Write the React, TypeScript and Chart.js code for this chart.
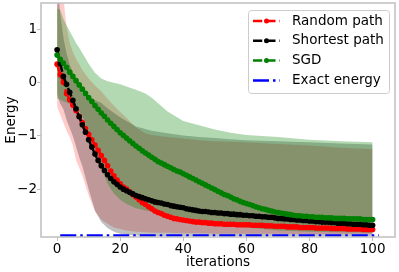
import React, { useEffect, useRef } from 'react';
import { Chart, registerables } from 'chart.js';

Chart.register(...registerables);

// ---------- data ----------
const iterations: number[] = Array.from({ length: 101 }, (_, i) => i);

const randomPath = [
  0.35, 0.15, 0.01, -0.2, -0.32, -0.42, -0.52, -0.63, -0.75, -0.86,
  -0.97, -1.07, -1.17, -1.27, -1.37, -1.46, -1.56, -1.66, -1.75, -1.83,
  -1.9, -1.96, -2.0, -2.05, -2.1, -2.15, -2.2, -2.25, -2.29, -2.33,
  -2.37, -2.41, -2.44, -2.46, -2.49, -2.51, -2.53, -2.55, -2.56, -2.57,
  -2.58, -2.59, -2.6, -2.61, -2.62, -2.62, -2.63, -2.63, -2.64, -2.64,
  -2.65, -2.65, -2.65, -2.66, -2.66, -2.66, -2.66, -2.67, -2.67, -2.67,
  -2.67, -2.67, -2.68, -2.68, -2.68, -2.68, -2.69, -2.69, -2.69, -2.7,
  -2.7, -2.7, -2.7, -2.71, -2.71, -2.71, -2.71, -2.72, -2.72, -2.72,
  -2.72, -2.72, -2.73, -2.73, -2.73, -2.73, -2.73, -2.74, -2.74, -2.74,
  -2.74, -2.74, -2.75, -2.75, -2.75, -2.75, -2.75, -2.76, -2.76, -2.76,
  -2.76,
];

const shortestPath = [
  0.62, 0.36, 0.12, -0.03, -0.18, -0.33, -0.49, -0.64, -0.79, -0.93,
  -1.07, -1.21, -1.34, -1.46, -1.56, -1.65, -1.73, -1.8, -1.86, -1.91,
  -1.96, -2.0, -2.03, -2.06, -2.09, -2.12, -2.14, -2.16, -2.18, -2.2,
  -2.22, -2.24, -2.25, -2.26, -2.28, -2.29, -2.31, -2.32, -2.33, -2.34,
  -2.35, -2.37, -2.38, -2.39, -2.4, -2.41, -2.42, -2.42, -2.43, -2.44,
  -2.44, -2.45, -2.45, -2.46, -2.46, -2.47, -2.47, -2.48, -2.48, -2.49,
  -2.49, -2.5, -2.5, -2.51, -2.51, -2.52, -2.52, -2.53, -2.53, -2.54,
  -2.55, -2.55, -2.56, -2.56, -2.57, -2.57, -2.58, -2.58, -2.59, -2.59,
  -2.6, -2.6, -2.61, -2.61, -2.62, -2.62, -2.62, -2.63, -2.63, -2.64,
  -2.64, -2.64, -2.65, -2.65, -2.66, -2.66, -2.66, -2.67, -2.67, -2.68,
  -2.68,
];

const sgd = [
  0.52, 0.44, 0.37, 0.29, 0.2, 0.12, 0.04, -0.04, -0.12, -0.2,
  -0.28, -0.35, -0.43, -0.5, -0.57, -0.63, -0.7, -0.76, -0.82, -0.88,
  -0.94, -0.99, -1.04, -1.09, -1.14, -1.19, -1.23, -1.28, -1.32, -1.36,
  -1.4, -1.44, -1.48, -1.51, -1.54, -1.57, -1.6, -1.63, -1.66, -1.68,
  -1.71, -1.74, -1.77, -1.8, -1.83, -1.86, -1.89, -1.92, -1.95, -1.98,
  -2.01, -2.04, -2.07, -2.1, -2.12, -2.15, -2.18, -2.2, -2.23, -2.25,
  -2.27, -2.29, -2.31, -2.33, -2.35, -2.37, -2.38, -2.4, -2.41, -2.43,
  -2.44, -2.45, -2.46, -2.47, -2.48, -2.49, -2.5, -2.5, -2.51, -2.51,
  -2.52, -2.52, -2.53, -2.53, -2.53, -2.54, -2.54, -2.54, -2.55, -2.55,
  -2.55, -2.55, -2.56, -2.56, -2.56, -2.56, -2.56, -2.57, -2.57, -2.57,
  -2.57,
];

// spread bands (mean +/- std), sampled at these iterations
const bandX = [0, 1, 2, 3, 4, 5, 6, 7, 8, 10, 12, 14, 16, 18, 20, 22, 25, 28, 30, 35, 40, 45, 50, 55, 60, 70, 80, 90, 100];
const randomUpper = [3.0, 2.4, 1.6, 1.05, 0.75, 0.58, 0.45, 0.35, 0.24, 0.08, -0.05, -0.16, -0.3, -0.43, -0.55, -0.66, -0.84, -0.95, -0.98, -1.02, -1.05, -1.08, -1.1, -1.11, -1.12, -1.15, -1.18, -1.22, -1.25];
const randomLower = [-0.45, -0.6, -0.75, -0.9, -1.02, -1.18, -1.45, -1.6, -1.75, -2.12, -2.42, -2.57, -2.65, -2.72, -2.75, -2.78, -2.8, -2.81, -2.82, -2.82, -2.83, -2.83, -2.84, -2.84, -2.84, -2.84, -2.85, -2.85, -2.85];
const shortestUpper = [2.0, 1.3, 0.85, 0.55, 0.35, 0.2, 0.07, -0.05, -0.2, -0.3, -0.33, -0.38, -0.48, -0.57, -0.65, -0.72, -0.82, -0.87, -0.9, -0.95, -0.99, -1.02, -1.04, -1.06, -1.08, -1.1, -1.12, -1.14, -1.16];
const shortestLower = [-0.2, -0.4, -0.5, -0.7, -0.85, -1.0, -1.2, -1.4, -1.57, -2.0, -2.4, -2.62, -2.73, -2.8, -2.84, -2.86, -2.87, -2.88, -2.88, -2.88, -2.88, -2.88, -2.88, -2.88, -2.88, -2.88, -2.88, -2.88, -2.88];
const sgdUpper = [1.4, 1.37, 1.2, 1.08, 0.97, 0.86, 0.75, 0.66, 0.56, 0.36, 0.19, 0.08, 0.03, 0.0, -0.03, -0.07, -0.13, -0.2, -0.28, -0.54, -0.72, -0.8, -0.88, -0.94, -0.98, -1.02, -1.07, -1.1, -1.12];
const sgdLower = [-0.3, -0.32, -0.35, -0.37, -0.4, -0.43, -0.47, -0.54, -0.62, -0.9, -1.25, -1.6, -1.9, -2.08, -2.2, -2.28, -2.36, -2.4, -2.42, -2.47, -2.53, -2.58, -2.63, -2.68, -2.72, -2.78, -2.8, -2.81, -2.82];

const exactX = [1, 102];
const exactEnergy = [-2.87, -2.87];

const xTicks = [0, 20, 40, 60, 80, 100];
const yTicks = [-2, -1, 0, 1];

const seriesNames = ['Random path', 'Shortest path', 'SGD', 'Exact energy'];
const seriesColors = ['#ff0000', '#000000', '#008000', '#0000ff'];

// ---------- styles ----------
const FONT = 'DejaVu Sans';
const FS = 13.5;
const SPINE = '#bfbfbf';
const MAIN_DASH = [9.25, 4];
const EXACT_DASH = [16, 4, 2.5, 4];

const toXY = (xs: number[], ys: number[]) => ys.map((y, i) => ({ x: xs[i], y }));

const lineDs = (label: string, data: number[], color: string, order: number) => ({
  label,
  data: toXY(iterations, data),
  borderColor: color,
  backgroundColor: color,
  borderWidth: 2.5,
  borderDash: MAIN_DASH,
  pointRadius: 2.8,
  pointBorderWidth: 0,
  pointBackgroundColor: color,
  pointHoverRadius: 0,
  fill: false,
  tension: 0,
  order,
});

const bandDs = (upper: number[], lower: number[], fillColor: string, order: number) => [
  {
    data: toXY(bandX, upper),
    fill: '+1',
    backgroundColor: fillColor,
    borderColor: 'rgba(0,0,0,0)',
    borderWidth: 0,
    pointRadius: 0,
    tension: 0,
    order,
  },
  {
    data: toXY(bandX, lower),
    fill: false,
    borderColor: 'rgba(0,0,0,0)',
    borderWidth: 0,
    pointRadius: 0,
    tension: 0,
    order,
  },
];

const fmt = (v: number) => (v < 0 ? '\u2212' + String(Math.abs(v)) : String(v));

const framePlugin = {
  id: 'frameAndLegend',
  afterDraw(chart: any) {
    const { ctx, chartArea: a } = chart;
    ctx.save();
    // spines
    ctx.strokeStyle = SPINE;
    ctx.lineWidth = 1.5;
    ctx.strokeRect(a.left, a.top, a.right - a.left, a.bottom - a.top);

    // legend
    const bw = 141;
    const bh = 83;
    const bx = a.right - 6 - bw;
    const by = a.top + 7;
    ctx.beginPath();
    (ctx as any).roundRect(bx + 0.5, by + 0.5, bw, bh, 3);
    ctx.fillStyle = 'rgba(255,255,255,0.8)';
    ctx.fill();
    ctx.strokeStyle = '#cccccc';
    ctx.lineWidth = 1;
    ctx.stroke();

    ctx.font = `${FS}px "${FONT}"`;
    ctx.textBaseline = 'middle';
    ctx.textAlign = 'left';
    seriesNames.forEach((name, i) => {
      const cy = by + 11 + i * 19.8;
      const x0 = bx + 5;
      const x1 = bx + 32;
      ctx.beginPath();
      ctx.setLineDash(i === 3 ? EXACT_DASH : MAIN_DASH);
      ctx.lineWidth = 2.5;
      ctx.strokeStyle = seriesColors[i];
      ctx.moveTo(x0, cy);
      ctx.lineTo(x1, cy);
      ctx.stroke();
      ctx.setLineDash([]);
      if (i < 3) {
        ctx.beginPath();
        ctx.fillStyle = seriesColors[i];
        ctx.arc((x0 + x1) / 2, cy, 2.5, 0, Math.PI * 2);
        ctx.fill();
      }
      ctx.fillStyle = '#000000';
      ctx.fillText(name, bx + 44, cy);
    });
    ctx.restore();
  },
};

export default function App() {
  const ref = useRef<HTMLCanvasElement | null>(null);

  useEffect(() => {
    if (!ref.current) return;
    const datasets: any[] = [
      {
        label: seriesNames[3],
        data: toXY(exactX, exactEnergy),
        borderColor: seriesColors[3],
        borderWidth: 2.5,
        borderDash: EXACT_DASH,
        pointRadius: 0,
        fill: false,
        order: 1,
      },
      lineDs(seriesNames[2], sgd, seriesColors[2], 2),
      lineDs(seriesNames[1], shortestPath, seriesColors[1], 3),
      lineDs(seriesNames[0], randomPath, seriesColors[0], 4),
      ...bandDs(sgdUpper, sgdLower, 'rgba(0,128,0,0.3)', 5),
      ...bandDs(shortestUpper, shortestLower, 'rgba(0,0,0,0.25)', 6),
      ...bandDs(randomUpper, randomLower, 'rgba(255,0,0,0.2)', 7),
    ];

    const chart = new Chart(ref.current, {
      type: 'line',
      data: { datasets },
      plugins: [framePlugin],
      options: {
        animation: false,
        responsive: false,
        devicePixelRatio: 1,
        events: [],
        layout: { padding: { top: 3, right: 4, left: 0, bottom: 0 } },
        plugins: {
          legend: { display: false },
          tooltip: { enabled: false },
          filler: { propagate: false, drawTime: 'beforeDatasetsDraw' },
        },
        scales: {
          x: {
            type: 'linear',
            min: -5.1,
            max: 107.1,
            afterBuildTicks: (s: any) => {
              s.ticks = xTicks.map((v) => ({ value: v }));
            },
            afterFit: (s: any) => {
              s.height = 35;
              s.paddingLeft = 0;
              s.paddingRight = 0;
            },
            border: { display: false },
            grid: { display: true, drawOnChartArea: false, drawTicks: true, tickLength: 4, color: SPINE, lineWidth: 1 },
            ticks: {
              padding: 0,
              maxRotation: 0,
              color: '#000',
              font: { family: FONT, size: FS },
              callback: (v: any) => fmt(Number(v)),
            },
            title: {
              display: true,
              text: 'iterations',
              color: '#000',
              font: { family: FONT, size: FS },
              padding: { top: 0, bottom: 1 },
            },
          },
          y: {
            type: 'linear',
            min: -2.9,
            max: 1.5,
            afterBuildTicks: (s: any) => {
              s.ticks = yTicks.map((v) => ({ value: v }));
            },
            afterFit: (s: any) => {
              s.width = 41;
              s.paddingTop = 0;
              s.paddingBottom = 0;
            },
            border: { display: false },
            grid: { display: true, drawOnChartArea: false, drawTicks: true, tickLength: 4, color: SPINE, lineWidth: 1 },
            ticks: {
              padding: 0,
              color: '#000',
              font: { family: FONT, size: FS },
              callback: (v: any) => fmt(Number(v)),
            },
            title: {
              display: true,
              text: 'Energy',
              color: '#000',
              font: { family: FONT, size: FS },
              padding: { top: 3, bottom: 0 },
            },
          },
        },
      },
    });
    return () => chart.destroy();
  }, []);

  return (
    <div style={{ position: 'absolute', left: 0, top: 0, width: 399, height: 272, background: '#fff' }}>
      <canvas ref={ref} width={399} height={272} style={{ display: 'block' }} />
    </div>
  );
}
